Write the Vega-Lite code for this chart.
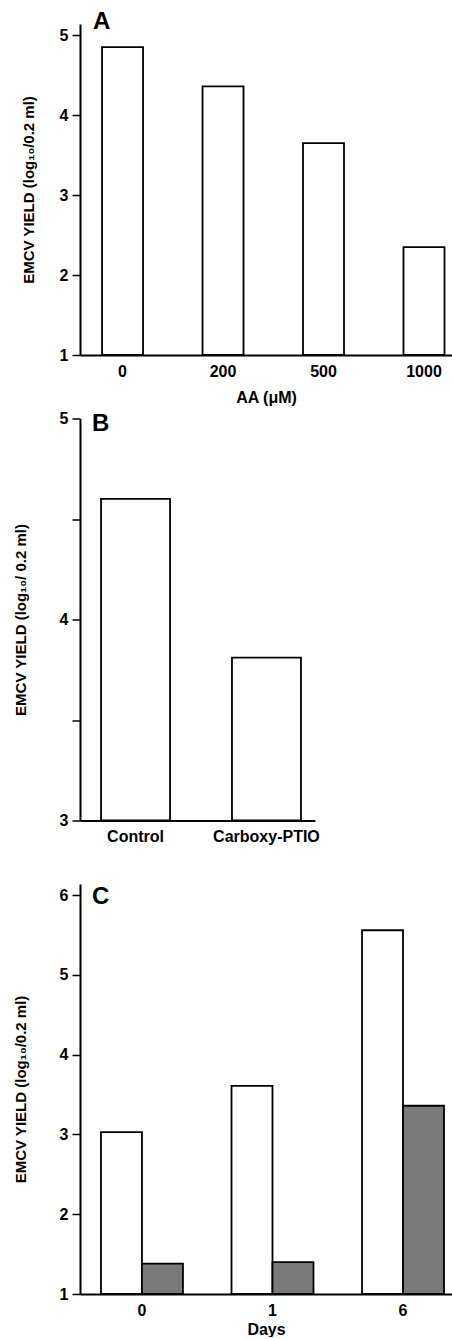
{
  "$schema": "https://vega.github.io/schema/vega-lite/v6.json",
  "autosize": {"type": "pad"},
  "padding": {"left": 13, "top": 10, "right": 0, "bottom": 0},
  "background": "white",
  "bounds": "flush",
  "spacing": 63.5,
  "config": {
    "font": "Liberation Sans",
    "view": {"stroke": null},
    "axis": {
      "labelFont": "Liberation Sans",
      "labelFontWeight": "bold",
      "labelFontSize": 16,
      "labelColor": "black",
      "titleFont": "Liberation Sans",
      "titleFontWeight": "bold",
      "titleFontSize": 16,
      "titleColor": "black",
      "domainColor": "black",
      "domainWidth": 2,
      "tickColor": "black",
      "tickWidth": 1.5,
      "grid": false
    },
    "title": {"font": "Liberation Sans", "fontWeight": "bold", "fontSize": 24, "color": "black"}
  },
  "vconcat": [
    {
      "width": 372,
      "height": 331,
      "title": {"text": "A", "anchor": "start", "frame": "group", "dx": 13, "offset": 0, "dy": 29, "baseline": "alphabetic"},
      "data": {"values": [
        {"aa": "0", "yield": 4.85},
        {"aa": "200", "yield": 4.36},
        {"aa": "500", "yield": 3.65},
        {"aa": "1000", "yield": 2.35}
      ]},
      "mark": {"type": "bar", "fill": "white", "stroke": "black", "strokeWidth": 1.8},
      "encoding": {
        "x": {"field": "aa", "type": "ordinal", "sort": ["0", "200", "500", "1000"],
          "scale": {"paddingInner": 0.592, "paddingOuter": 0.147, "align": 0.746},
          "axis": {"title": "AA  (μM)", "labelAngle": 0, "ticks": false, "labelPadding": 8, "titlePadding": 10}},
        "y": {"field": "yield", "type": "quantitative",
          "scale": {"domain": [1, 5.14], "nice": false, "zero": false},
          "axis": {"values": [1, 2, 3, 4, 5], "title": "EMCV YIELD (log₁₀/0.2 ml)", "titleFontSize": 15, "tickSize": 8, "labelPadding": 4, "titlePadding": 23}},
        "y2": {"datum": 1}
      }
    },
    {
      "width": 235,
      "height": 402,
      "title": {"text": "B", "anchor": "start", "frame": "group", "dx": 12, "offset": 0, "dy": 44, "baseline": "alphabetic"},
      "data": {"values": [
        {"group": "Control", "yield": 4.6},
        {"group": "Carboxy-PTIO", "yield": 3.81}
      ]},
      "mark": {"type": "bar", "fill": "white", "stroke": "black", "strokeWidth": 1.8},
      "encoding": {
        "x": {"field": "group", "type": "nominal", "sort": ["Control", "Carboxy-PTIO"],
          "scale": {"paddingInner": 0.473, "paddingOuter": 0.134, "align": 0.6},
          "axis": {"title": null, "labelAngle": 0, "ticks": false, "labelPadding": 8}},
        "y": {"field": "yield", "type": "quantitative",
          "scale": {"domain": [3, 5], "nice": false, "zero": false},
          "axis": {"values": [3, 3.5, 4, 4.5, 5], "format": ".0f", "labelExpr": "datum.value % 1 === 0 ? datum.label : ''",
            "title": "EMCV YIELD  (log₁₀/ 0.2 ml)", "titleFontSize": 15, "tickSize": 8, "labelPadding": 4, "titlePadding": 31}},
        "y2": {"datum": 3}
      }
    },
    {
      "width": 372,
      "height": 410,
      "title": {"text": "C", "anchor": "start", "frame": "group", "dx": 12, "offset": 0, "dy": 44, "baseline": "alphabetic"},
      "data": {"values": [
        {"day": "0", "treat": "a", "yield": 3.03},
        {"day": "0", "treat": "b", "yield": 1.38},
        {"day": "1", "treat": "a", "yield": 3.61},
        {"day": "1", "treat": "b", "yield": 1.4},
        {"day": "6", "treat": "a", "yield": 5.56},
        {"day": "6", "treat": "b", "yield": 3.36}
      ]},
      "mark": {"type": "bar", "stroke": "black", "strokeWidth": 1.8},
      "encoding": {
        "x": {"field": "day", "type": "ordinal", "sort": ["0", "1", "6"],
          "scale": {"paddingInner": 0.372, "paddingOuter": 0.111, "align": 0.724},
          "axis": {"title": "Days", "labelAngle": 0, "ticks": false, "labelPadding": 8, "titlePadding": 3}},
        "xOffset": {"field": "treat", "type": "nominal", "scale": {"paddingInner": 0, "paddingOuter": 0}},
        "y": {"field": "yield", "type": "quantitative",
          "scale": {"domain": [1, 6.14], "nice": false, "zero": false},
          "axis": {"values": [1, 2, 3, 4, 5, 6], "title": "EMCV YIELD (log₁₀/0.2 ml)", "titleFontSize": 15, "tickSize": 8, "labelPadding": 4, "titlePadding": 31}},
        "y2": {"datum": 1},
        "fill": {"field": "treat", "type": "nominal", "scale": {"domain": ["a", "b"], "range": ["white", "#7a7a7a"]}, "legend": null}
      }
    }
  ]
}
